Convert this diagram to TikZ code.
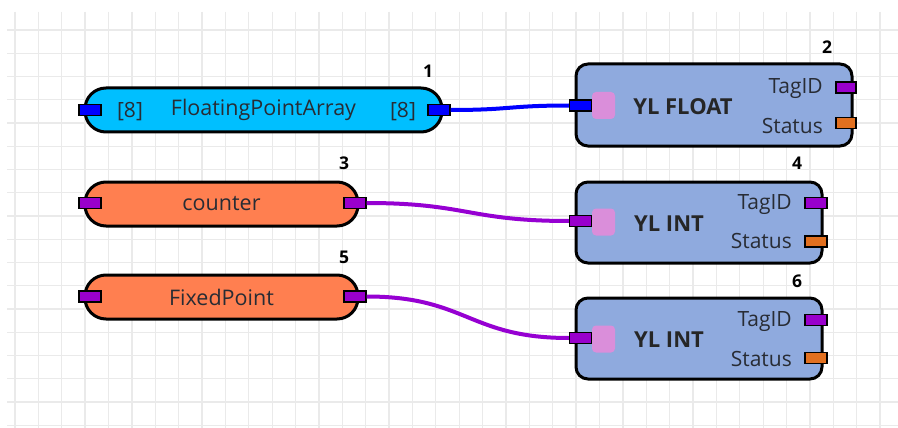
\documentclass[tikz,border=0pt]{standalone}
\usepackage{fontspec}
\setmainfont{Open Sans}
\definecolor{gridc}{RGB}{234,234,234}
\definecolor{cyanfill}{RGB}{0,191,255}
\definecolor{coralfill}{RGB}{255,127,80}
\definecolor{blockfill}{RGB}{143,170,222}
\definecolor{pinkc}{RGB}{218,142,218}
\definecolor{portblue}{RGB}{0,0,255}
\definecolor{portpurple}{RGB}{153,0,204}
\definecolor{portorange}{RGB}{226,112,32}
\definecolor{wirepurple}{RGB}{150,0,210}
\definecolor{txt}{RGB}{40,44,52}
\tikzset{
  pill/.style={draw=black, line width=3pt, rounded corners=21pt, minimum height=44pt, inner sep=0pt, font=\fontsize{21.5}{24}\selectfont, text=txt},
  block/.style={draw=black, line width=3pt, rounded corners=12pt, fill=blockfill, inner sep=0pt},
  port/.style={draw=black, line width=1.3pt, minimum width=22pt, minimum height=11pt, inner sep=0pt},
  pinkpad/.style={fill=pinkc, rounded corners=4pt, minimum width=23pt, minimum height=27pt, inner sep=0pt},
  lbl/.style={font=\fontsize{21}{24}\selectfont, text=txt, inner sep=0pt},
  title/.style={font=\bfseries\fontsize{22}{26}\selectfont, text=black!85, inner sep=0pt},
  num/.style={font=\bfseries\fontsize{17.5}{20}\selectfont, inner sep=0pt},
  wire/.style={line width=4pt, line cap=butt}
}
\begin{document}
\begin{tikzpicture}[x=1pt,y=-1pt]
\useasboundingbox (0,0) rectangle (898,428);
\fill[white] (0,0) rectangle (898,428);
% grid
\foreach \i in {0,...,37} \draw[gridc, line width=1.3pt] ({15+\i*23.38},12) -- ({15+\i*23.38},428);
\foreach \j in {0,...,17} \draw[gridc, line width=1.3pt] (7,{30+\j*23.25}) -- (898,{30+\j*23.25});

% node 1
\node[pill, fill=cyanfill, minimum width=357pt] (n1) at (263.5,110) {FloatingPointArray};
\node[lbl] (n1a) at (130,112) {[8]};
\node[lbl] (n1b) at (403,112) {[8]};
\node[port, fill=portblue] (p1l) at (90,110) {};
\node[port, fill=portblue] (p1r) at (439,110) {};
\node[num] (k1) at (428,71) {1};

% node 3
\node[pill, fill=coralfill, minimum width=273pt] (n3) at (221.5,204) {counter};
\node[port, fill=portpurple] (p3l) at (90,203) {};
\node[port, fill=portpurple] (p3r) at (355,203) {};
\node[num] (k3) at (344,163) {3};

% node 5
\node[pill, fill=coralfill, minimum width=273pt] (n5) at (221.5,297) {FixedPoint};
\node[port, fill=portpurple] (p5l) at (90,296.5) {};
\node[port, fill=portpurple] (p5r) at (355,296.5) {};
\node[num] (k5) at (344,257) {5};

% node 2
\node[block, minimum width=276pt, minimum height=82pt] (n2) at (714,105) {};
\node[pinkpad] (g2) at (603.5,105.5) {};
\node[port, fill=portblue] (p2l) at (580.5,105.5) {};
\node[title] (t2) at (683,107) {YL FLOAT};
\node[lbl, anchor=east] (a2) at (823,89) {TagID};
\node[lbl, anchor=east] (b2) at (823,126) {Status};
\node[port, fill=portpurple, minimum width=20pt] (q2a) at (846,87.5) {};
\node[port, fill=portorange, minimum width=20pt] (q2b) at (846,123) {};
\node[num] (k2) at (827,47) {2};

% node 4
\node[block, minimum width=246pt, minimum height=81pt] (n4) at (699,222.5) {};
\node[pinkpad] (g4) at (603.5,222) {};
\node[port, fill=portpurple] (p4l) at (580.5,221) {};
\node[title] (t4) at (669,224) {YL INT};
\node[lbl, anchor=east] (a4) at (792,205) {TagID};
\node[lbl, anchor=east] (b4) at (792,241) {Status};
\node[port, fill=portpurple] (q4a) at (816,203) {};
\node[port, fill=portorange] (q4b) at (816,241.5) {};
\node[num] (k4) at (797,163) {4};

% node 6
\node[block, minimum width=246pt, minimum height=81pt] (n6) at (699,338.5) {};
\node[pinkpad] (g6) at (603.5,339) {};
\node[port, fill=portpurple] (p6l) at (580.5,338) {};
\node[title] (t6) at (669,340) {YL INT};
\node[lbl, anchor=east] (a6) at (792,322) {TagID};
\node[lbl, anchor=east] (b6) at (792,359) {Status};
\node[port, fill=portpurple] (q6a) at (816,320) {};
\node[port, fill=portorange] (q6b) at (816,358) {};
\node[num] (k6) at (797,281) {6};

% wires
\draw[wire, portblue] (p1r.east) .. controls +(60,0) and +(-60,0) .. (p2l.west);
\draw[wire, wirepurple] (p3r.east) .. controls +(100,0) and +(-100,0) .. (p4l.west);
\draw[wire, wirepurple] (p5r.east) .. controls +(100,0) and +(-100,0) .. (p6l.west);
\end{tikzpicture}
\end{document}
